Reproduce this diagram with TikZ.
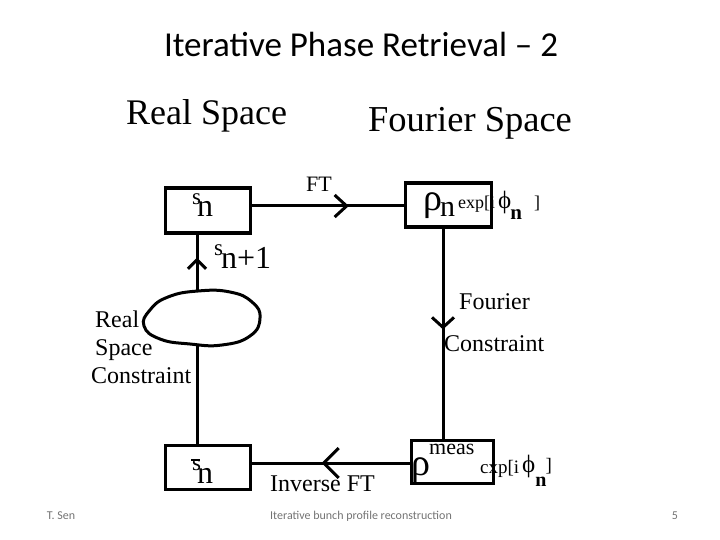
\documentclass[tikz,border=0pt]{standalone}
\usepackage{fontspec}
\setmainfont{Liberation Serif}
\newfontfamily\carlito{Carlito}
\usetikzlibrary{decorations.markings,arrows.meta}
\newcommand{\fsz}[1]{\fontsize{#1}{#1}\selectfont}
\begin{document}
\begin{tikzpicture}[x=1pt,y=-1pt,
  boxnode/.style={draw, line width=3.2pt, inner sep=0pt, anchor=north west},
  conn/.style={line width=3pt},
  lbl/.style={inner sep=0pt, anchor=base west},
  chev/.style 2 args={postaction={decorate}, decoration={markings,
     mark=at position #1 with {\arrow{Straight Barb[length=#2, width=22pt, line width=3pt]}}}},
  foot/.style={inner sep=0pt, anchor=base, text=black!55, font=\carlito\fsz{12}}
  ]
\useasboundingbox (0,0) rectangle (720,540);

% title
\node[inner sep=0pt, anchor=base] (title) at (361,57) {\carlito\fsz{35}Iterative Phase Retrieval – 2};

% headings
\node[lbl] (realsp) at (126,125) {\fsz{36}Real Space};
\node[lbl] (foursp) at (368,132) {\fsz{36.5}Fourier Space};

% boxes
\node[boxnode, minimum width=85pt, minimum height=45pt] (sn) at (163.5,186.5) {};
\node[boxnode, minimum width=86pt, minimum height=44pt] (rho) at (403.5,181.5) {};
\node[boxnode, minimum width=85pt, minimum height=44pt] (sbar) at (163.5,443.5) {};
\node[boxnode, minimum width=82pt, minimum height=43pt] (meas) at (409.5,438.5) {};

% box texts
\node[lbl] (sntxt) at (192,217) {\raisebox{13pt}{\fsz{23}s}\kern-4pt{\fsz{32}n}};
\node[lbl] (sbartxt) at (192,483) {\raisebox{13pt}{\fsz{23}s\llap{\raisebox{9pt}{\rule{9pt}{1.6pt}}\kern1pt}}\kern-4pt{\fsz{32}n}};
\node[lbl] (rhotxt) at (423,211) {\fsz{38}ρ\kern-2pt\raisebox{-6pt}{\fsz{30}n}};
\node[lbl] (rhoexp) at (458,208) {\fsz{18}exp[i\kern3pt\raisebox{-1pt}{\fsz{25}ϕ}\kern-1pt\raisebox{-12pt}{\fsz{21}\bfseries n}\kern12pt]};
\node[lbl] (meastxt) at (411,475) {\fsz{38}ρ\raisebox{21pt}{\kern-1pt\fsz{22}meas}};
\node[lbl] (measexp) at (480,473) {\fsz{19}cxp[i\kern3pt\raisebox{1pt}{\fsz{25}ϕ}\kern0pt\raisebox{-13pt}{\fsz{20}\bfseries n}\kern-1pt\raisebox{2pt}{]}};

% connectors
\draw[conn, chev={0.64}{12pt}] (sn.east |- 0,206) -- (rho.west |- 0,206);
\draw[conn, chev={0.48}{10pt}] (rho.south -| 443,0) -- (meas.north -| 443,0);
\draw[conn, postaction={decorate}, decoration={markings,
     mark=at position 0.557 with {\arrow{Straight Barb[length=15pt, width=30pt, line width=3pt]}}}]
     (meas.west |- 0,463) -- (sbar.east |- 0,463);
\draw[conn, postaction={decorate}, decoration={markings,
     mark=at position 0.89 with {\arrow{Straight Barb[length=9pt, width=18pt, line width=3pt]}}}]
     (sbar.north -| 197,0) -- (sn.south -| 197,0);

% blob (real space constraint)
\draw[line width=3pt, fill=white] plot[smooth cycle, tension=0.8] coordinates
  {(144,326) (150,310) (168,297) (198,291) (230,292) (252,302) (260,318)
   (250,336) (222,345) (190,344) (160,339)};

% labels
\node[lbl] (ft) at (306,192) {\fsz{22}FT};
\node[lbl] (snp1) at (214,268) {\raisebox{13pt}{\fsz{23}s}\kern-2pt{\fsz{32}n+1}};
\node[lbl] (fourc1) at (459,309) {\fsz{24}Fourier};
\node[lbl] (fourc2) at (444,351) {\fsz{24}Constraint};
\node[lbl] (rsc1) at (95,327) {\fsz{24}Real};
\node[lbl] (rsc2) at (95,355) {\fsz{24}Space};
\node[lbl] (rsc3) at (91,383) {\fsz{24}Constraint};
\node[lbl] (ift) at (270,491) {\fsz{24}Inverse FT};

% footer
\node[foot] (f1) at (61,519) {T. Sen};
\node[foot] (f2) at (361,519) {Iterative bunch profile reconstruction};
\node[foot] (f3) at (675,519) {5};
\end{tikzpicture}
\end{document}
